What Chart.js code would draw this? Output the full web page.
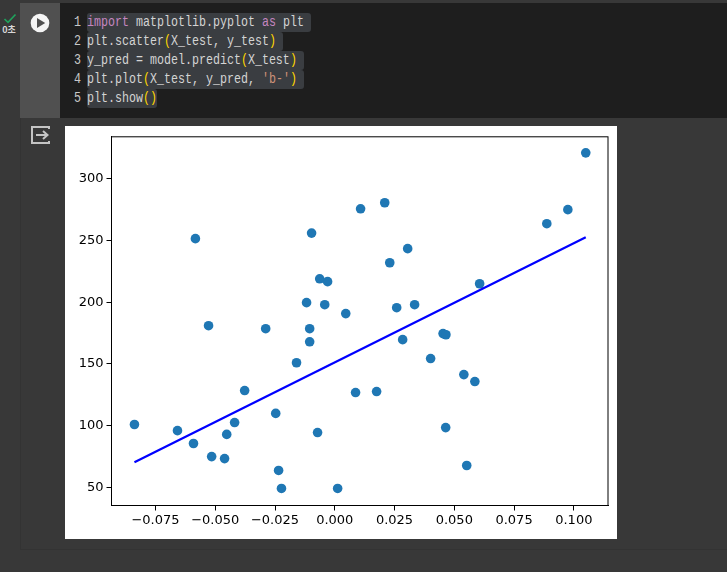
<!DOCTYPE html>
<html lang="ko">
<head>
<meta charset="utf-8">
<title>plt.scatter</title>
<script src="https://cdn.jsdelivr.net/npm/chart.js@4"></script>
<style>
  html, body { margin: 0; padding: 0; width: 727px; height: 572px; overflow: hidden; background: #383838; }
  .abs { position: absolute; }
  #gutter { left: 20px; top: 3px; width: 40px; height: 115px; background: #505050; }
  #codeBg { left: 60px; top: 3px; width: 667px; height: 115px; background: #1e1e1e; }
  #outBottom { left: 20px; top: 549px; width: 707px; height: 1px; background: #333333; }
  #outLeft { left: 20px; top: 118px; width: 1px; height: 431px; background: #333333; }
  #plot { left: 65px; top: 126px; width: 552px; height: 413px; background: #fff; }
  #status { left: 0; top: 24px; width: 18px; text-align: center; color: #d6d6d6; font: bold 9px "Noto Sans CJK KR", sans-serif; line-height: 12px; }
  .hl { position: absolute; left: 87px; height: 19px; background: #3a3d41; border-radius: 3px; }
  .num, .code { position: absolute; font: 11.67px/19px "Liberation Mono", monospace; white-space: pre; transform: scaleY(1.22); }
  .num { left: 60px; width: 21px; text-align: right; color: #c8c8c8; }
  .code { left: 87px; color: #d4d4d4; }
  .kw { color: #c586c0; }
  .br { color: #ffd700; }
  .st { color: #ce9178; }
</style>
</head>
<body>
<div class="abs" id="gutter"></div>
<div class="abs" id="codeBg"></div>
<div class="abs" id="outBottom"></div>
<div class="abs" id="outLeft"></div>

<svg class="abs" style="left:3px;top:13px" width="14" height="11" viewBox="0 0 14 11">
  <path d="M1.5 6 L5 9.3 L12.5 1.5" fill="none" stroke="#1fa35c" stroke-width="1.6"/>
</svg>
<div class="abs" id="status">0초</div>

<svg class="abs" style="left:30px;top:13px" width="20" height="20" viewBox="0 0 20 20">
  <circle cx="10" cy="10" r="9.3" fill="#f5f5f5"/>
  <path d="M7 5 L15.2 10 L7 15 Z" fill="#505050"/>
</svg>

<svg class="abs" style="left:30px;top:125px" width="21" height="20" viewBox="0 0 21 20">
  <path d="M19 4 V2 H2 V18 H19 V16" fill="none" stroke="#c4c4c4" stroke-width="2"/>
  <path d="M6 10 H17 M13 6 L17.5 10 L13 14" fill="none" stroke="#c4c4c4" stroke-width="2"/>
</svg>

<div class="hl" style="top:13px;width:224px"></div>
<div class="hl" style="top:32px;width:196px"></div>
<div class="hl" style="top:51px;width:217px"></div>
<div class="hl" style="top:70px;width:217px"></div>
<div class="hl" style="top:89px;width:70px"></div>

<div class="num" style="top:13px">1</div>
<div class="num" style="top:32px">2</div>
<div class="num" style="top:51px">3</div>
<div class="num" style="top:70px">4</div>
<div class="num" style="top:89px">5</div>

<div class="code" style="top:13px"><span class="kw">import</span> matplotlib.pyplot <span class="kw">as</span> plt</div>
<div class="code" style="top:32px">plt.scatter<span class="br">(</span>X_test, y_test<span class="br">)</span></div>
<div class="code" style="top:51px">y_pred = model.predict<span class="br">(</span>X_test<span class="br">)</span></div>
<div class="code" style="top:70px">plt.plot<span class="br">(</span>X_test, y_pred, <span class="st">'b-'</span><span class="br">)</span></div>
<div class="code" style="top:89px">plt.show<span class="br">()</span></div>

<div class="abs" id="plot"><canvas id="chart" width="552" height="413"></canvas></div>

<script>
// values
const testX = [
  -0.0838, -0.0658, -0.0591, -0.0583, -0.0528, -0.0515, -0.0461, -0.0452, -0.0419, -0.0377,
  -0.0289, -0.0247, -0.0235, -0.0223, -0.016, -0.0118, -0.0105, -0.0105, -0.0097, -0.0072,
  -0.0063, -0.0042, -0.003, 0.0012, 0.0046, 0.0087, 0.0108, 0.0175, 0.0209, 0.023,
  0.0259, 0.0284, 0.0305, 0.0334, 0.0401, 0.0453, 0.0465, 0.0464, 0.054, 0.0552,
  0.0586, 0.0606, 0.0887, 0.0975, 0.105,
];
const testY = [
  101, 96, 85.6, 251.5, 181, 75, 73.4, 93, 102.6, 128.5,
  178.6, 110, 63.8, 49.2, 151, 199.7, 178.6, 168, 256, 94.5,
  219, 198, 216.7, 49.2, 190.8, 126.9, 275.7, 127.7, 280.6, 232,
  195.6, 169.7, 243.4, 198, 154.4, 174.6, 173.7, 98.5, 141.4, 67.8,
  135.8, 215, 263.6, 275, 321,
];
const lineX = [-0.0838, 0.105];
const lineY = [70.4, 252.7];

const xTicks = [-0.075, -0.05, -0.025, 0, 0.025, 0.05, 0.075, 0.1];
const xTickLabels = ["−0.075", "−0.050", "−0.025", "0.000", "0.025", "0.050", "0.075", "0.100"];
const yTicks = [50, 100, 150, 200, 250, 300];

const toPoints = (xs, ys) => xs.map((x, i) => ({ x: x, y: ys[i] }));

// the frame round the axes, all four sides
const frame = {
  id: "frame",
  afterDraw: (chart) => {
    const ctx = chart.ctx;
    const a = chart.chartArea;
    ctx.save();
    ctx.strokeStyle = "#000";
    ctx.lineWidth = 1;
    ctx.strokeRect(a.left, a.top, a.right - a.left, a.bottom - a.top);
    ctx.restore();
  },
};

const tickStyle = { family: "'DejaVu Sans'", size: 13 };

new Chart(document.getElementById("chart").getContext("2d"), {
  type: "scatter",
  data: {
    datasets: [
      {
        type: "line",
        label: "y_pred",
        data: toPoints(lineX, lineY),
        borderColor: "#0000ff",
        borderWidth: 2.2,
        pointRadius: 0,
        fill: false,
        order: 0,
      },
      {
        label: "y_test",
        data: toPoints(testX, testY),
        backgroundColor: "#1f77b4",
        borderColor: "#1f77b4",
        borderWidth: 0,
        pointRadius: 4.8,
        order: 1,
      },
    ],
  },
  options: {
    responsive: false,
    animation: false,
    layout: { padding: { left: 0, top: 10.5, right: 9, bottom: 0 } },
    plugins: { legend: { display: false }, tooltip: { enabled: false } },
    scales: {
      x: {
        type: "linear",
        min: -0.0934,
        max: 0.1143,
        afterBuildTicks: (scale) => { scale.ticks = xTicks.map((v) => ({ value: v })); },
        afterFit: (scale) => { scale.height = 33.5; },
        ticks: {
          autoSkip: false,
          maxRotation: 0,
          color: "#000",
          font: tickStyle,
          padding: 2,
          callback: (value) => xTickLabels[xTicks.indexOf(value)],
        },
        grid: { drawOnChartArea: false, tickLength: 5, tickColor: "#000" },
        border: { color: "#000" },
      },
      y: {
        min: 35.4,
        max: 334,
        afterBuildTicks: (scale) => { scale.ticks = yTicks.map((v) => ({ value: v })); },
        afterFit: (scale) => { scale.width = 46.5; },
        ticks: { color: "#000", font: tickStyle, padding: 3 },
        grid: { drawOnChartArea: false, tickLength: 5, tickColor: "#000" },
        border: { color: "#000" },
      },
    },
  },
  plugins: [frame],
});
</script>
</body>
</html>
